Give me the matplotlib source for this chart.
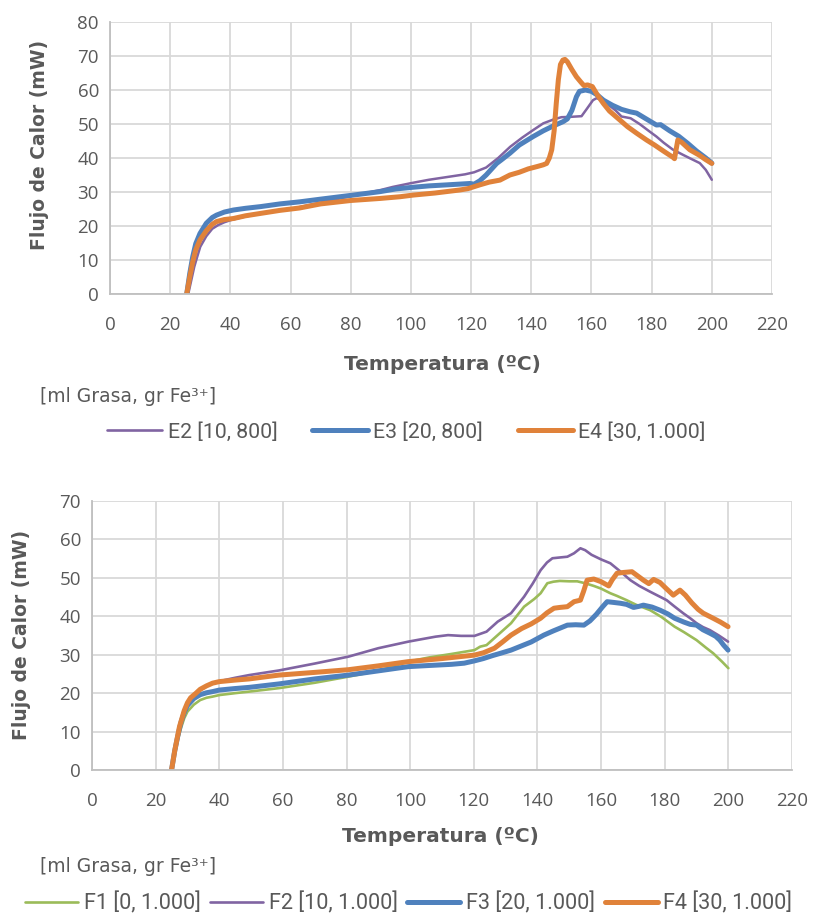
import matplotlib
matplotlib.use("Agg")
import matplotlib.pyplot as plt
from matplotlib.lines import Line2D
import numpy as np

# --- datos E (grafico superior) ---
t_e2 = [26, 27, 28, 29, 30, 32, 34, 36, 38, 40, 45, 50, 56, 60, 70, 80, 90, 94, 100, 106, 112, 118, 121,
        125, 129, 133, 137, 140.6, 144, 147.3, 150, 153, 156.7, 158.5, 160.5, 161.7, 163, 165, 168, 170,
        173, 176, 179, 181.6, 184, 187, 190.5, 193, 196, 198, 200]
q_e2 = [0, 4, 8, 11, 13.9, 17, 19.2, 20.3, 21.1, 21.7, 22.8, 23.6, 24.5, 25, 26.9, 28.8, 30.6, 31.5, 32.6,
        33.6, 34.4, 35.2, 35.8, 37.2, 40, 43.3, 46, 48.2, 50.2, 51.3, 52, 52.1, 52.3, 54.5, 57, 57.6, 57.2,
        56.1, 54, 52.2, 51.7, 50, 48, 46.3, 44.5, 42.5, 40.9, 39.8, 38.5, 36.5, 33.6]

t_e3 = [25.5, 26.5, 27.5, 28.5, 29.9, 32, 34, 35.4, 38, 41, 45, 50, 56.5, 63, 70, 80, 89.7, 95, 100.8, 106,
        112, 119.6, 121, 122.9, 125, 128.5, 130, 132.9, 136, 140.6, 144, 147, 150.6, 152, 153.5, 155, 156,
        158, 160, 162, 164, 167, 170, 172.8, 175, 178, 181.6, 183, 186, 189, 192, 195, 198, 200]
q_e3 = [0, 6, 11, 14.8, 17.8, 20.8, 22.5, 23.2, 24.1, 24.7, 25.2, 25.7, 26.5, 27.1, 27.9, 29, 30.1, 30.9,
        31.4, 31.8, 32.1, 32.5, 32.3, 33.3, 35, 38.4, 39.4, 41.4, 43.8, 46.3, 48, 49.3, 50.7, 51.5, 54, 58,
        59.6, 60, 59.6, 58.5, 57, 55.5, 54.3, 53.6, 53.2, 51.6, 49.7, 49.8, 48, 46.4, 44.3, 42, 40, 38.5]

t_e4 = [25.5, 26.5, 27.5, 28.5, 29.9, 32, 34, 35.4, 38, 41, 45, 50, 56.5, 63, 70, 80, 89.7, 96.3, 100.8, 108,
        116.3, 119, 122.9, 126, 129.6, 132.9, 136, 139, 142, 144, 145.1, 146, 146.8, 147.6, 148.3, 149,
        149.7, 150.5, 151.2, 152, 153.5, 155, 156.5, 157.5, 158.7, 160.3, 162, 164, 166, 169.4, 172, 175,
        178.3, 181, 184, 187.1, 187.6, 188.7, 190, 192.7, 195.7, 198, 200]
q_e4 = [0, 5, 9.5, 13, 15.9, 18.6, 20.5, 21.3, 21.9, 22.2, 23, 23.7, 24.6, 25.3, 26.5, 27.5, 28.1, 28.6, 29.1,
        29.7, 30.6, 31, 32.1, 32.9, 33.5, 35, 35.8, 36.8, 37.5, 38, 38.4, 40, 42.4, 48, 56, 63, 67.5, 68.8,
        69, 68.3, 66, 63.9, 62.3, 61.3, 61.5, 61, 58.5, 56, 53.8, 51.2, 49.2, 47.3, 45.3, 43.8, 42, 40.2,
        39.8, 45.3, 44.6, 42.4, 40.9, 39.5, 38.4]

# --- datos F (grafico inferior) ---
t_f1 = [25, 26, 27, 28, 29, 30, 32, 34, 36, 37.9, 40, 45, 49.4, 58.75, 70, 80.6, 90, 99.4, 106, 113, 120.2,
        122, 124, 127.5, 131.7, 135.8, 139, 141, 143.1, 145, 147, 150, 152.5, 155, 157.7, 160, 162.9, 165,
        168, 171, 175.4, 179, 183.1, 186, 190, 193, 195.2, 198, 200]
q_f1 = [0, 4, 8, 11, 13.5, 15.2, 17, 18.2, 18.8, 19.1, 19.5, 20, 20.4, 21.3, 22.7, 24.3, 25.8, 28.2, 29.3,
        30.2, 31.2, 32.1, 32.5, 35.1, 38.2, 42.5, 44.5, 46, 48.6, 49, 49.2, 49.1, 49.1, 48.6, 47.9, 47.2,
        46, 45.3, 44.2, 43, 41.6, 39.8, 37.3, 35.9, 33.8, 31.8, 30.4, 28.2, 26.5]

t_f2 = [25, 26, 27, 28, 29, 30, 32, 34, 36, 38, 40, 45, 49.4, 58.75, 70, 80.6, 90, 99.4, 104, 108, 111.9,
        116, 120.2, 124, 127.5, 131.7, 135.8, 138.5, 141, 143, 144.7, 147, 149.4, 151.5, 153.5, 155, 157,
        160, 162.9, 166, 169.2, 172, 175.4, 178, 180.6, 183, 185.8, 188, 190, 192, 194.2, 197, 199.9]
q_f2 = [0, 4.5, 8.5, 12, 14.5, 16.5, 19, 20.7, 21.8, 22.6, 23.1, 24, 24.7, 25.9, 27.7, 29.5, 31.7, 33.4,
        34.1, 34.7, 35.1, 34.9, 34.9, 36, 38.6, 40.8, 45.1, 48.5, 52, 54, 55.1, 55.3, 55.5, 56.4, 57.7,
        57.2, 56, 54.8, 53.8, 51.7, 49.4, 47.9, 46.4, 45.3, 44.2, 42.6, 40.8, 39.5, 38.2, 37.2, 36.4, 35,
        33.4]

t_f3 = [25, 26, 27, 28, 29, 30, 32, 34, 36, 37.9, 40, 45, 49.4, 58.75, 70, 80.6, 90, 99.4, 106, 113, 117,
        120.2, 123, 126, 128.5, 131.7, 135, 138, 142, 145, 149.4, 152, 154.6, 156.5, 158.5, 160.5, 161.9,
        164, 166, 168, 170.2, 172, 173.3, 176, 178.5, 181, 183.1, 186, 188, 190, 192, 194.2, 196, 197.3,
        198.5, 199.9]
q_f3 = [0, 5, 9, 12.5, 15, 16.8, 18.6, 19.6, 20.1, 20.4, 20.8, 21.2, 21.5, 22.4, 23.7, 24.7, 25.8, 26.9,
        27.2, 27.5, 27.8, 28.4, 29, 29.8, 30.4, 31.2, 32.3, 33.3, 35.1, 36.2, 37.7, 37.8, 37.7, 38.8, 40.5,
        42.5, 43.8, 43.6, 43.4, 43.1, 42.3, 42.6, 42.9, 42.4, 41.6, 40.6, 39.5, 38.5, 37.9, 37.7, 36.5,
        35.6, 34.8, 33.8, 32.5, 31.2]

t_f4 = [25, 26, 27.5, 29, 30, 31, 32.7, 34, 36, 37.9, 40, 45, 49.4, 58.75, 70, 80.6, 90, 99.4, 110, 120.2,
        123, 126.5, 129, 131.7, 135, 138, 141, 143, 145.2, 147, 149.4, 151.5, 153.5, 154.5, 155.6, 157.7,
        160, 162.4, 163.5, 165, 167, 169.7, 171.5, 173.3, 175, 176.5, 178.5, 180.5, 182.7, 184.8, 186.5,
        188.5, 190.5, 192.1, 195.2, 197.5, 199.9]
q_f4 = [0, 5, 11.3, 15.5, 17.5, 18.8, 20, 21, 21.9, 22.6, 23.0, 23.4, 23.7, 24.7, 25.4, 26.1, 27.1, 28.2,
        29, 29.9, 30.5, 31.7, 33.3, 35.1, 36.8, 38, 39.5, 40.9, 42.1, 42.3, 42.5, 43.8, 44.2, 46.5, 49.4,
        49.7, 49, 47.9, 49.5, 51.2, 51.4, 51.6, 50.5, 49.4, 48.5, 49.6, 48.8, 47.2, 45.5, 46.8, 45.5, 43.5,
        41.8, 40.8, 39.5, 38.5, 37.3]

labels_e = ["E2 [10, 800]", "E3 [20, 800]", "E4 [30, 1.000]"]
labels_f = ["F1 [0, 1.000]", "F2 [10, 1.000]", "F3 [20, 1.000]", "F4 [30, 1.000]"]

VERDE = "#9BBB59"
MORADO = "#8064A2"
AZUL = "#4F81BD"
NARANJA = "#E0823A"
GRIS_TXT = "#595959"

W, H = 816, 919
fig = plt.figure(figsize=(W / 100, H / 100), dpi=100)


def caja(x0, y0, x1, y1):
    # pixeles -> fraccion de figura
    return [x0 / W, 1 - y1 / H, (x1 - x0) / W, (y1 - y0) / H]


def estilo(ax, ymax, ystep):
    ax.set_xlim(0, 220)
    ax.set_ylim(0, ymax)
    ax.set_xticks(np.arange(0, 221, 20))
    ax.set_yticks(np.arange(0, ymax + 1, ystep))
    ax.grid(True, color="#D9D9D9", lw=1.3)
    ax.set_axisbelow(True)
    for s in ["top", "right"]:
        ax.spines[s].set_visible(False)
    for s in ["left", "bottom"]:
        ax.spines[s].set_color("#BFBFBF")
        ax.spines[s].set_linewidth(1.3)
    ax.tick_params(length=0, labelsize=13.5, colors=GRIS_TXT)
    ax.tick_params(axis="x", pad=16)
    ax.tick_params(axis="y", pad=8)
    for lab in ax.get_xticklabels() + ax.get_yticklabels():
        lab.set_fontfamily("Open Sans")


kw = dict(solid_capstyle="round", solid_joinstyle="round")

# grafico superior
ax1 = fig.add_axes(caja(110, 22, 772, 294))
estilo(ax1, 80, 10)
ax1.plot(t_e2, q_e2, color=MORADO, lw=1.8, **kw)
ax1.plot(t_e3, q_e3, color=AZUL, lw=3.6, **kw)
ax1.plot(t_e4, q_e4, color=NARANJA, lw=3.6, **kw)

# grafico inferior
ax2 = fig.add_axes(caja(92, 501, 792, 770))
estilo(ax2, 70, 10)
ax2.plot(t_f1, q_f1, color=VERDE, lw=1.9, **kw)
ax2.plot(t_f2, q_f2, color=MORADO, lw=1.9, **kw)
ax2.plot(t_f3, q_f3, color=AZUL, lw=3.6, **kw)
ax2.plot(t_f4, q_f4, color=NARANJA, lw=3.6, **kw)

# titulos de ejes
lab_kw = dict(fontweight="bold", color=GRIS_TXT, family="DejaVu Sans", ha="center", va="center")
fig.text(442 / W, 1 - 365 / H, "Temperatura (ºC)", fontsize=14.5, **lab_kw)
fig.text(40 / W, 1 - 145 / H, "Flujo de Calor (mW)", rotation=90, fontsize=13.5, **lab_kw)
fig.text(440 / W, 1 - 836 / H, "Temperatura (ºC)", fontsize=14.5, **lab_kw)
fig.text(22 / W, 1 - 635 / H, "Flujo de Calor (mW)", rotation=90, fontsize=13.5, **lab_kw)

# leyendas
tit_kw = dict(fontsize=13.5, color=GRIS_TXT, family="DejaVu Sans", ha="left", va="center")
fig.text(40 / W, 1 - 397 / H, "[ml Grasa, gr Fe³⁺]", **tit_kw)
fig.text(40 / W, 1 - 866 / H, "[ml Grasa, gr Fe³⁺]", **tit_kw)

h_e = [Line2D([], [], color=MORADO, lw=1.9, **kw),
       Line2D([], [], color=AZUL, lw=3.6, **kw),
       Line2D([], [], color=NARANJA, lw=3.6, **kw)]
h_f = [Line2D([], [], color=VERDE, lw=1.9, **kw),
       Line2D([], [], color=MORADO, lw=1.9, **kw),
       Line2D([], [], color=AZUL, lw=3.6, **kw),
       Line2D([], [], color=NARANJA, lw=3.6, **kw)]

leg_kw = dict(frameon=False, borderpad=0, borderaxespad=0, handletextpad=0.25, labelcolor=GRIS_TXT)
fig.legend(h_e, labels_e, loc="center left", bbox_to_anchor=(107 / W, 1 - 432 / H), ncol=3,
           handlelength=2.6, columnspacing=1.65, prop={"family": "Roboto", "size": 15.3}, **leg_kw)
fig.legend(h_f, labels_f, loc="center left", bbox_to_anchor=(25 / W, 1 - 903 / H), ncol=4,
           handlelength=2.45, columnspacing=0.45, prop={"family": "Roboto", "size": 15.6}, **leg_kw)

fig.savefig("out.png", dpi=100)
